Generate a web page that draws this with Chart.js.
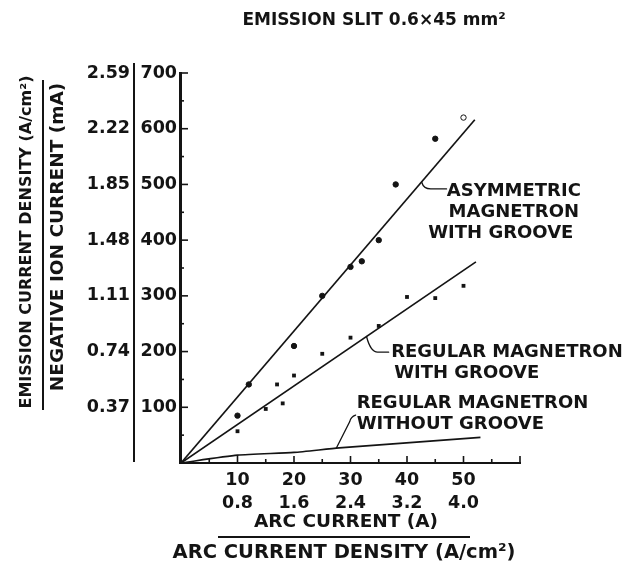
<!DOCTYPE html>
<html><head><meta charset="utf-8">
<script src="https://cdn.jsdelivr.net/npm/chart.js@4/dist/chart.umd.min.js"></script>
<style>html,body{margin:0;padding:0;background:#fff}</style>
</head><body>
<canvas id="c" width="641" height="564"></canvas>
<script>
// ---- data ----
const arcCurrentTicks = [10, 20, 30, 40, 50];                 // A
const arcDensityLabels = ['0.8', '1.6', '2.4', '3.2', '4.0']; // A/cm2
const ionCurrentTicks = [100, 200, 300, 400, 500, 600, 700];  // mA
const emissionDensityLabels = ['0.37', '0.74', '1.11', '1.48', '1.85', '2.22', '2.59']; // A/cm2

// Asymmetric magnetron with groove (measured points)
const asymX = [10, 12, 20, 25, 30, 32, 35, 38, 45, 50];
const asymY = [85, 141, 210, 300, 352, 362, 400, 500, 582, 620];
// Regular magnetron with groove (measured points)
const regX = [10, 15, 17, 18, 20, 25, 30, 35, 40, 45, 50];
const regY = [57, 97, 141, 107, 157, 196, 225, 246, 298, 296, 318];
// Fitted lines
const asymFitX = [0, 52];   const asymFitY = [0, 616];
const regFitX = [0, 52.2];  const regFitY = [0, 361];
// Regular magnetron without groove (curve only)
const noGrooveX = [0, 10, 20, 28, 53];
const noGrooveY = [0, 14, 19, 27, 46];

const pts = (xs, ys) => xs.map((x, i) => ({x, y: ys[i]}));

const INK = '#141414';
const FAM = '"DejaVu Sans", "Liberation Sans", sans-serif';

// annotation anchors (data coordinates) with per-line pixel nudges
const notes = [
  {x: 58.2, y: 487, align: 'center', dx: [4, 4, -9], lines: ['ASYMMETRIC', 'MAGNETRON', 'WITH GROOVE']},
  {x: 37.2, y: 198, align: 'left', dx: [0, 3], lines: ['REGULAR MAGNETRON', 'WITH GROOVE']},
  {x: 31.1, y: 108, align: 'left', dx: [0, 0], lines: ['REGULAR MAGNETRON', 'WITHOUT GROOVE']}
];

const deco = {
  id: 'deco',
  afterDraw(chart) {
    const ctx = chart.ctx, xs = chart.scales.x, ys = chart.scales.y, ca = chart.chartArea;
    const X = v => xs.getPixelForValue(v), Y = v => ys.getPixelForValue(v);
    ctx.save();
    ctx.strokeStyle = INK; ctx.fillStyle = INK; ctx.lineCap = 'butt';
    const x0 = Math.round(X(0)), y0 = Math.round(Y(0)), yTop = Math.round(Y(700)), xEnd = Math.round(X(60));
    // axes (L-shape)
    ctx.fillRect(x0 - 2, yTop - 1, 3, y0 - yTop + 2);
    ctx.fillRect(x0 - 2, y0 - 1, xEnd - x0 + 3, 2);
    // inward ticks on y axis
    ctx.lineWidth = 1.6;
    for (let v = 50; v <= 700; v += 50) {
      const len = v % 100 === 0 ? 7 : 3;
      ctx.beginPath(); ctx.moveTo(x0, Y(v)); ctx.lineTo(x0 + len, Y(v)); ctx.stroke();
    }
    // inward ticks on x axis
    for (let v = 5; v <= 60; v += 5) {
      const len = v % 10 === 0 ? 7 : 4;
      ctx.beginPath(); ctx.moveTo(X(v), y0); ctx.lineTo(X(v), y0 - len); ctx.stroke();
    }
    // separator between the two y scales
    const sx = chart.scales.y2.right;
    ctx.fillRect(sx - 1, ca.top - 10, 2, ca.bottom - ca.top + 9);

    // leader lines
    ctx.lineWidth = 1.3; ctx.lineCap = 'round';
    ctx.beginPath();
    ctx.moveTo(X(42.6), Y(504)); ctx.quadraticCurveTo(X(42.95), Y(492), X(44.2), Y(492)); ctx.lineTo(X(47), Y(492));
    ctx.stroke();
    ctx.beginPath();
    ctx.moveTo(X(32.84), Y(227)); ctx.quadraticCurveTo(X(33.55), Y(199), X(34.8), Y(199)); ctx.lineTo(X(36.75), Y(199));
    ctx.stroke();
    ctx.beginPath();
    ctx.moveTo(X(27.5), Y(27)); ctx.lineTo(X(29.85), Y(74)); ctx.quadraticCurveTo(X(30.05), Y(83), X(30.9), Y(86));
    ctx.stroke();

    // annotations
    ctx.font = 'bold 18px ' + FAM;
    ctx.textBaseline = 'middle';
    for (const n of notes) {
      ctx.textAlign = n.align;
      n.lines.forEach((t, i) => ctx.fillText(t, X(n.x) + n.dx[i], Y(n.y) + i * 21));
    }

    // title
    ctx.textAlign = 'center';
    ctx.font = 'bold 17px ' + FAM;
    ctx.fillText('EMISSION SLIT 0.6\u00d745 mm\u00b2', 374, 21);

    // x axis titles (fraction)
    ctx.font = 'bold 18.5px ' + FAM;
    ctx.fillText('ARC CURRENT (A)', 346, 522);
    ctx.fillRect(218, 536, 252, 2);
    ctx.font = 'bold 19.5px ' + FAM;
    ctx.fillText('ARC CURRENT DENSITY (A/cm\u00b2)', 344, 553);

    // y axis titles (fraction, rotated)
    ctx.save();
    ctx.translate(27, 242); ctx.rotate(-Math.PI / 2);
    ctx.font = 'bold 16px ' + FAM;
    ctx.fillText('EMISSION CURRENT DENSITY (A/cm\u00b2)', 0, 0);
    ctx.restore();
    ctx.fillRect(42, 80, 2, 330);
    ctx.save();
    ctx.translate(58, 237); ctx.rotate(-Math.PI / 2);
    ctx.font = 'bold 18.5px ' + FAM;
    ctx.fillText('NEGATIVE ION CURRENT (mA)', 0, 0);
    ctx.restore();
    ctx.restore();
  }
};

const tickFont = {family: FAM, size: 17.5, weight: 'bold', lineHeight: 1.3};

new Chart(document.getElementById('c'), {
  type: 'scatter',
  data: {
    datasets: [
      {data: pts(asymX, asymY), pointStyle: 'circle', pointRadius: 2.7,
       backgroundColor: asymX.map((x, i) => i === asymX.length - 1 ? '#fff' : INK),
       borderColor: INK, borderWidth: 1},
      {data: pts(regX, regY), pointStyle: 'rect', pointRadius: 2.7, backgroundColor: INK, borderColor: INK, borderWidth: 0},
      {data: pts(asymFitX, asymFitY), showLine: true, pointRadius: 0, borderColor: INK, borderWidth: 1.7},
      {data: pts(regFitX, regFitY), showLine: true, pointRadius: 0, borderColor: INK, borderWidth: 1.7},
      {data: pts(noGrooveX, noGrooveY), showLine: true, pointRadius: 0, borderColor: INK, borderWidth: 1.7, tension: 0.2}
    ]
  },
  options: {
    responsive: false, animation: false,
    layout: {padding: {top: 73, right: 121, bottom: 0, left: 0}},
    plugins: {legend: {display: false}, tooltip: {enabled: false}, title: {display: false}},
    scales: {
      x: {
        type: 'linear', position: 'bottom', min: 0, max: 60,
        grid: {display: false, drawTicks: false},
        border: {display: false},
        ticks: {
          stepSize: 10, autoSkip: false, maxRotation: 0, color: INK, font: tickFont, padding: 6,
          callback: v => { const i = arcCurrentTicks.indexOf(v); return i < 0 ? '' : [String(v), arcDensityLabels[i]]; }
        },
        afterFit: s => { s.height = 101; }
      },
      y: {
        type: 'linear', position: 'left', weight: 0, min: 0, max: 700,
        grid: {display: false, drawTicks: false},
        border: {display: false},
        ticks: {stepSize: 100, color: INK, font: tickFont, padding: 4,
          callback: v => ionCurrentTicks.includes(v) ? String(v) : ''},
        afterFit: s => { s.width = 47; }
      },
      y2: {
        type: 'linear', position: 'left', weight: 1, min: 0, max: 700,
        grid: {display: false, drawTicks: false},
        border: {display: false},
        ticks: {stepSize: 100, color: INK, font: tickFont, padding: 4,
          callback: v => { const i = ionCurrentTicks.indexOf(v); return i < 0 ? '' : emissionDensityLabels[i]; }},
        afterFit: s => { s.width = 134; }
      }
    }
  },
  plugins: [deco]
});
</script>
</body></html>
